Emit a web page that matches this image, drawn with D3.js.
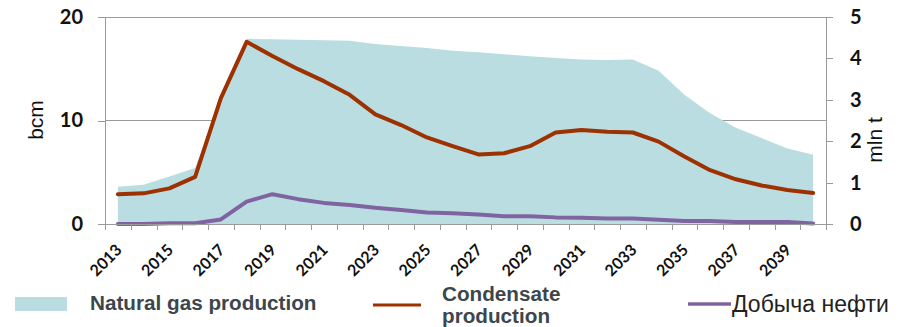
<!DOCTYPE html>
<html>
<head>
<meta charset="utf-8">
<script src="https://cdn.jsdelivr.net/npm/d3@7"></script>
<style>
  html, body { margin: 0; padding: 0; background: #fff; }
  svg { display: block; }
</style>
</head>
<body>
<svg id="chart" width="908" height="327"></svg>
<script>
// Years on the category axis
const years = d3.range(2013, 2041);

// Natural gas production, bcm (left axis)
const gasProduction = [3.6, 3.8, 4.6, 5.4, 12.0, 17.9, 17.85, 17.8, 17.75, 17.7, 17.4, 17.2,
  17.0, 16.75, 16.6, 16.4, 16.2, 16.05, 15.9, 15.85, 15.9, 14.8, 12.5, 10.7, 9.3, 8.3, 7.3, 6.7];

// Condensate production, mln t (right axis)
const condensateProduction = [0.72, 0.74, 0.86, 1.14, 3.04, 4.40, 4.06, 3.74, 3.45, 3.12, 2.65, 2.39,
  2.09, 1.88, 1.68, 1.71, 1.88, 2.21, 2.27, 2.23, 2.21, 1.99, 1.63, 1.30, 1.08, 0.93, 0.82, 0.75];

// Oil production, mln t (right axis)
const oilProduction = [0.0, 0.0, 0.02, 0.02, 0.11, 0.54, 0.72, 0.60, 0.51, 0.46, 0.39, 0.34,
  0.28, 0.26, 0.23, 0.19, 0.19, 0.16, 0.15, 0.13, 0.13, 0.10, 0.07, 0.07, 0.05, 0.05, 0.05, 0.01];

const leftTicks = [0, 10, 20];
const rightTicks = [0, 1, 2, 3, 4, 5];
const yearLabels = years.filter(y => (y - 2013) % 2 === 0);

const seriesNames = ["Natural gas production", "Condensate production", "Добыча нефти"];

const colors = { gas: "#badde1", condensate: "#9e3100", oil: "#8064a2", axis: "#9a9a9a" };

const svg = d3.select("#chart");
const plot = { left: 105, right: 826, top: 17, bottom: 224 };

const x = d3.scaleBand().domain(years).range([plot.left, plot.right]);
const cx = d => x(d) + x.bandwidth() / 2;
const yL = d3.scaleLinear().domain([0, 20]).range([plot.bottom, plot.top]);
const yR = d3.scaleLinear().domain([0, 5]).range([plot.bottom, plot.top]);
const edge = d3.scaleLinear().domain([0, years.length]).range([plot.left, plot.right]);

// Horizontal gridlines
svg.append("g").selectAll("line").data(leftTicks).join("line")
  .attr("x1", plot.left).attr("x2", plot.right)
  .attr("y1", d => yL(d)).attr("y2", d => yL(d))
  .attr("stroke", colors.axis).attr("stroke-width", 1).attr("shape-rendering", "crispEdges");

// Gas area
const gasData = years.map((yr, i) => ({ yr, v: gasProduction[i] }));
svg.append("path").datum(gasData)
  .attr("fill", colors.gas)
  .attr("d", d3.area().x(d => cx(d.yr)).y0(yL(0)).y1(d => yL(d.v)));

// Lines
const lineR = d3.line().x(d => cx(d.yr)).y(d => yR(d.v));
svg.append("path").datum(years.map((yr, i) => ({ yr, v: oilProduction[i] })))
  .attr("fill", "none").attr("stroke", colors.oil).attr("stroke-width", 4)
  .attr("stroke-linejoin", "round").attr("stroke-linecap", "round").attr("d", lineR);
svg.append("path").datum(years.map((yr, i) => ({ yr, v: condensateProduction[i] })))
  .attr("fill", "none").attr("stroke", colors.condensate).attr("stroke-width", 4)
  .attr("stroke-linejoin", "round").attr("stroke-linecap", "round").attr("d", lineR);

// Axes
const tickFont = "Lato, 'Liberation Sans', sans-serif";
function styleAxis(g) {
  g.selectAll("path, line").attr("stroke", colors.axis).attr("shape-rendering", "crispEdges");
  g.selectAll("text").attr("fill", "#111").attr("font-family", tickFont)
    .attr("font-weight", "bold").attr("font-size", 20);
}

svg.append("g").attr("transform", `translate(${plot.left},0)`)
  .call(d3.axisLeft(yL).tickValues(leftTicks).tickFormat(d3.format("d"))
    .tickSizeInner(7).tickSizeOuter(0).tickPadding(15))
  .call(styleAxis);

svg.append("g").attr("transform", `translate(${plot.right},0)`)
  .call(d3.axisRight(yR).tickValues(rightTicks).tickFormat(d3.format("d"))
    .tickSizeInner(7).tickSizeOuter(0).tickPadding(17))
  .call(styleAxis);

// Category axis: ticks at category boundaries
svg.append("g").attr("transform", `translate(0,${plot.bottom})`)
  .call(d3.axisBottom(edge).tickValues(d3.range(0, years.length + 1))
    .tickSizeInner(6).tickSizeOuter(0).tickFormat(""))
  .call(styleAxis);

svg.append("g").selectAll("text").data(yearLabels).join("text")
  .attr("transform", d => `translate(${cx(d) + 5},${plot.bottom + 27}) rotate(-45)`)
  .attr("text-anchor", "end")
  .attr("font-family", tickFont).attr("font-weight", "bold").attr("font-size", 16)
  .attr("fill", "#111")
  .text(d => d);

// Axis titles
svg.append("text").attr("transform", `translate(43,120) rotate(-90)`)
  .attr("text-anchor", "middle").attr("font-family", "'Liberation Sans', Arial, sans-serif")
  .attr("font-size", 21).attr("fill", "#111").text("bcm");
svg.append("text").attr("transform", `translate(882,140) rotate(-90)`)
  .attr("text-anchor", "middle").attr("font-family", "'Liberation Sans', Arial, sans-serif")
  .attr("font-size", 21).attr("fill", "#111").text("mln t");

// Legend
const legend = svg.append("g");
const legendFont = "'Liberation Sans', Arial, sans-serif";
legend.append("rect").attr("x", 15).attr("y", 297).attr("width", 52).attr("height", 14).attr("fill", colors.gas);
legend.append("text").attr("x", 90).attr("y", 310)
  .attr("font-family", legendFont).attr("font-weight", "bold").attr("font-size", 20.7)
  .attr("fill", "#3d464b").text(seriesNames[0]);

legend.append("line").attr("x1", 373).attr("x2", 421).attr("y1", 305).attr("y2", 305)
  .attr("stroke", colors.condensate).attr("stroke-width", 3);
const cond = legend.append("text").attr("x", 442).attr("y", 301)
  .attr("font-family", legendFont).attr("font-weight", "bold").attr("font-size", 20.7)
  .attr("fill", "#3d464b");
const condWords = seriesNames[1].split(" ");
cond.append("tspan").attr("x", 442).attr("dy", 0).text(condWords[0]);
cond.append("tspan").attr("x", 442).attr("dy", 22).text(condWords[1]);

legend.append("line").attr("x1", 688).attr("x2", 731).attr("y1", 304).attr("y2", 304)
  .attr("stroke", colors.oil).attr("stroke-width", 3.5);
legend.append("text").attr("x", 732).attr("y", 312)
  .attr("font-family", legendFont).attr("font-size", 23)
  .attr("fill", "#222").text(seriesNames[2]);
</script>
</body>
</html>
